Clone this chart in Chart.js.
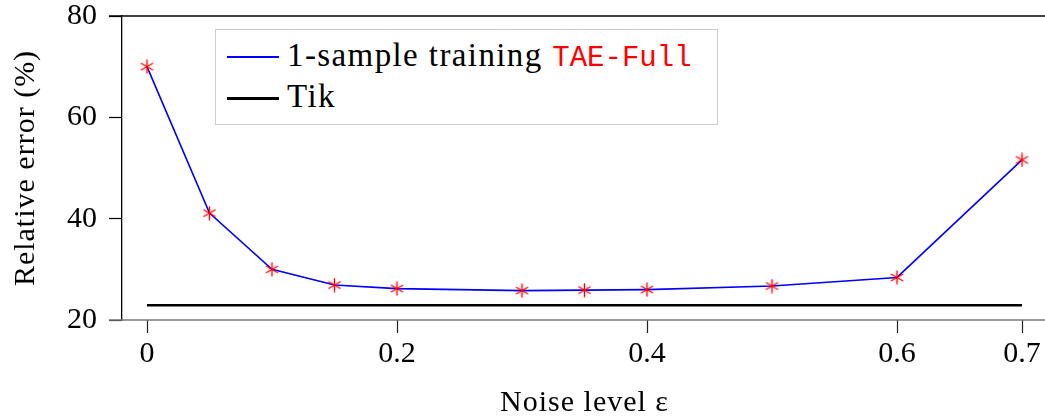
<!DOCTYPE html>
<html>
<head>
<meta charset="utf-8">
<script src="https://cdn.jsdelivr.net/npm/chart.js@4/dist/chart.umd.min.js"></script>
<style>
  html, body { margin: 0; padding: 0; background: #fff; overflow: hidden; }
  #wrap { position: relative; width: 1047px; height: 418px; }
  #legend {
    position: absolute; left: 215px; top: 29px; width: 501px; height: 94px;
    border: 1px solid #cccccc; background: #fff;
    font-family: "Liberation Serif", serif; font-size: 33px; color: #000;
    letter-spacing: 1.4px;
  }
  .row { position: absolute; left: 0; height: 40px; line-height: 40px; white-space: nowrap; }
  .swatch { position: absolute; left: 11px; width: 52px; }
  .txt { position: absolute; left: 71px; top: 0; }
  .mono { font-family: "Liberation Mono", monospace; color: #ff0000; font-size: 29px; letter-spacing: 0; }
</style>
</head>
<body>
<div id="wrap">
  <canvas id="c" width="1047" height="418"></canvas>
  <div id="legend">
    <div class="row" style="top:5px">
      <div class="swatch" style="top:21px;height:2px;background:#0000ff"></div>
      <div class="txt">1-sample training <span class="mono">TAE-Full</span></div>
    </div>
    <div class="row" style="top:46px">
      <div class="swatch" style="top:21px;height:3px;background:#000"></div>
      <div class="txt">Tik</div>
    </div>
  </div>
</div>
<script>
// noise levels and relative errors (%)
const noiseLevels = [0, 0.05, 0.1, 0.15, 0.2, 0.3, 0.35, 0.4, 0.5, 0.6, 0.7];
const taeFullError = [70.0, 41.1, 30.0, 26.9, 26.2, 25.8, 25.9, 26.0, 26.7, 28.4, 51.6];
const tikX = [0, 0.7];
const tikError = [22.9, 22.9];
const xTicks = [0, 0.2, 0.4, 0.6, 0.7];
const yTicks = [20, 40, 60, 80];

const serif = "'Liberation Serif', serif";

// asterisk marker: three strokes through the centre
function asterisk(size, color) {
  const cv = document.createElement('canvas');
  cv.width = size; cv.height = size;
  const g = cv.getContext('2d');
  g.strokeStyle = color; g.lineWidth = 1.4;
  const c = size / 2, r = size / 2 - 0.5;
  for (const a of [90, 30, -30]) {
    const t = a * Math.PI / 180;
    g.beginPath();
    g.moveTo(c - r * Math.cos(t), c - r * Math.sin(t));
    g.lineTo(c + r * Math.cos(t), c + r * Math.sin(t));
    g.stroke();
  }
  return cv;
}
const star = asterisk(15, '#ff0000');

const frame = {
  id: 'frame',
  afterDraw(chart) {
    const { ctx, chartArea: a } = chart;
    ctx.save();
    // top border line
    ctx.strokeStyle = '#000'; ctx.lineWidth = 1.3;
    ctx.beginPath(); ctx.moveTo(a.left - 13, a.top); ctx.lineTo(a.right, a.top); ctx.stroke();
    // bottom axis line
    ctx.strokeStyle = '#777'; ctx.lineWidth = 1.6;
    ctx.beginPath(); ctx.moveTo(a.left - 13, a.bottom); ctx.lineTo(a.right, a.bottom); ctx.stroke();
    // axis titles
    ctx.fillStyle = '#000';
    ctx.font = '30px ' + serif;
    ctx.textAlign = 'center'; ctx.textBaseline = 'alphabetic';
    ctx.letterSpacing = '1px';
    ctx.fillText('Noise level \u03B5', (a.left + a.right) / 2, 411);
    ctx.letterSpacing = '1px';
    ctx.translate(34, (a.top + a.bottom) / 2);
    ctx.rotate(-Math.PI / 2);
    ctx.fillText('Relative error (%)', 0, 0);
    ctx.restore();
  }
};

new Chart(document.getElementById('c'), {
  type: 'line',
  data: {
    datasets: [
      {
        label: '1-sample training TAE-Full',
        data: noiseLevels.map((x, i) => ({ x, y: taeFullError[i] })),
        borderColor: '#0000ff', borderWidth: 1.6,
        pointStyle: star, pointRadius: 7, pointBackgroundColor: '#ff0000', pointBorderColor: '#ff0000',
        tension: 0
      },
      {
        label: 'Tik',
        data: tikX.map((x, i) => ({ x, y: tikError[i] })),
        borderColor: '#000', borderWidth: 2.6, pointRadius: 0, tension: 0
      }
    ]
  },
  options: {
    responsive: false, animation: false,
    layout: { autoPadding: false, padding: { top: 16, right: 0, left: 0, bottom: 0 } },
    plugins: { legend: { display: false }, tooltip: { enabled: false } },
    scales: {
      x: {
        type: 'linear', min: -0.02, max: 0.72,
        afterBuildTicks: s => { s.ticks = xTicks.map(v => ({ value: v })); },
        afterFit: s => { s.height = 98; s.paddingLeft = 0; s.paddingRight = 0; },
        grid: { drawOnChartArea: false, tickLength: 13, tickColor: '#222', tickWidth: 1.2 },
        border: { display: false },
        ticks: { color: '#000', font: { family: serif, size: 30 }, padding: 3, maxRotation: 0,
                 callback: v => String(v) }
      },
      y: {
        min: 20, max: 80,
        afterBuildTicks: s => { s.ticks = yTicks.map(v => ({ value: v })); },
        afterFit: s => { s.width = 122; s.paddingTop = 0; s.paddingBottom = 0; },
        grid: { drawOnChartArea: false, tickLength: 13, tickColor: '#000', tickWidth: 1.2 },
        border: { display: true, color: '#000', width: 1.3 },
        ticks: { color: '#000', font: { family: serif, size: 30 }, padding: 12 }
      }
    }
  },
  plugins: [frame]
});
</script>
</body>
</html>
